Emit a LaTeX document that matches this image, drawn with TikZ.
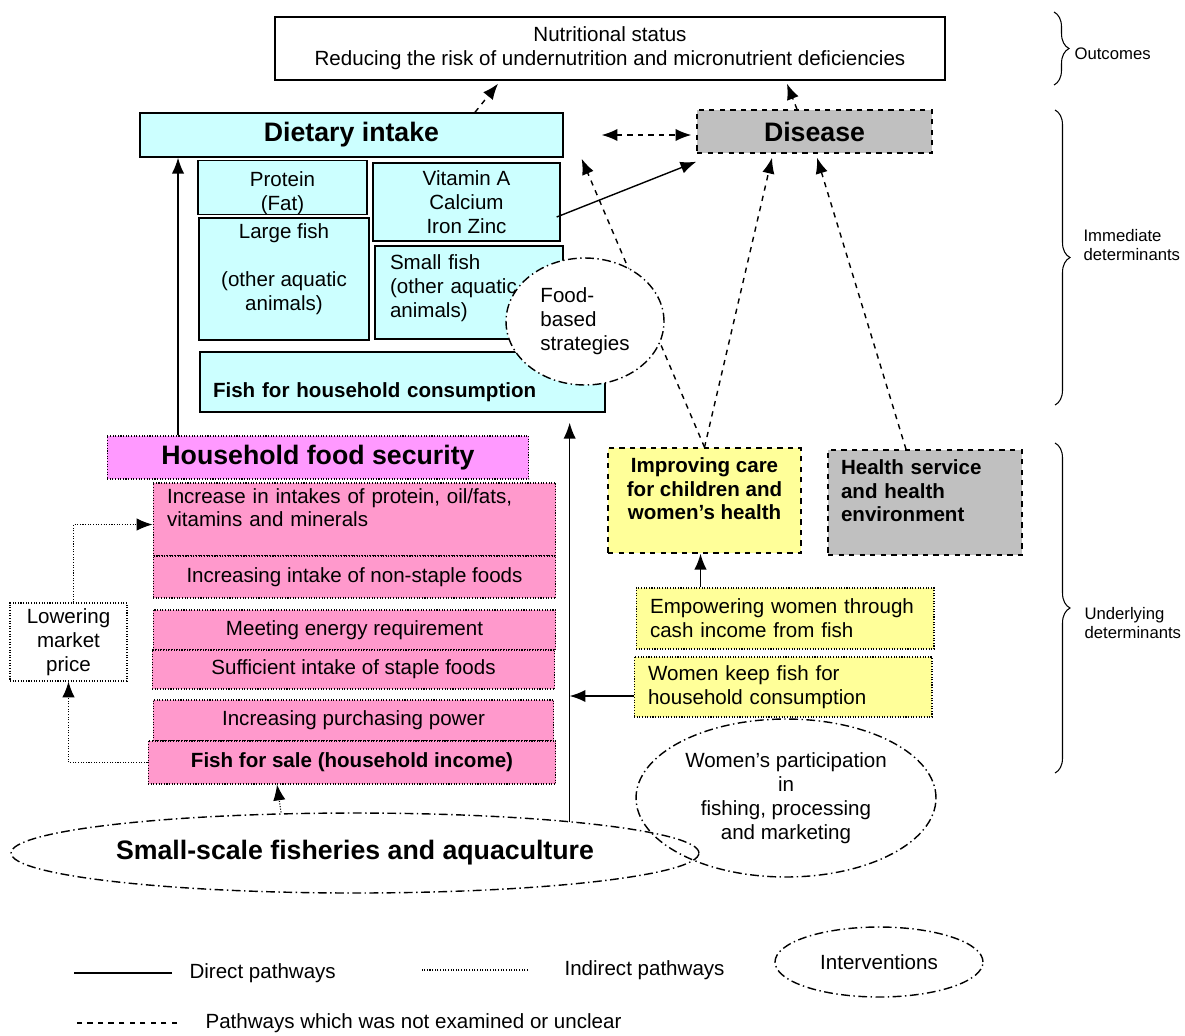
\documentclass[tikz,border=0pt]{standalone}
\usepackage{fontspec}
\setmainfont{Liberation Sans}
\usepackage{xcolor}
\usepackage{tikz}
\usetikzlibrary{shapes.geometric, arrows.meta, decorations.pathreplacing}

\definecolor{dietcyan}{HTML}{CCFFFF}
\definecolor{disgray}{HTML}{C0C0C0}
\definecolor{hfsmagenta}{HTML}{FF99FF}
\definecolor{hfspink}{HTML}{FF99CC}
\definecolor{careyellow}{HTML}{FFFF99}

\newcommand{\txtreg}{\fontsize{11.7}{13.6}\selectfont}
\newcommand{\txtbold}{\fontsize{11.7}{13.6}\selectfont\bfseries}
\newcommand{\txtbig}{\fontsize{15.2}{18}\selectfont\bfseries}
\newcommand{\txtbrace}{\fontsize{9.5}{11.3}\selectfont}

\begin{document}
\begin{tikzpicture}[x=0.02cm, y=-0.02cm, >={Latex[length=9pt,width=7pt]}, thick,
    cellbox/.style={draw, rectangle, inner sep=0pt, align=center, font=\txtreg},
    cyanbox/.style={cellbox, fill=dietcyan},
    dotline/.style={line width=0.6pt, dash pattern=on 0.6pt off 0.9pt},
    pinkbox/.style={cellbox, fill=hfspink, dotline},
    yellowbox/.style={cellbox, fill=careyellow, dotline},
    leftpad/.style={align=left, inner xsep=0.28cm},
    interv/.style={draw, ellipse, inner sep=0pt, align=center, font=\txtreg, dash pattern=on 5pt off 2pt on 0.8pt off 2pt},
    direct/.style={->},
    indirect/.style={->, dotline},
    unclear/.style={->, dashed},
    levelbrace/.style={decorate, decoration={brace, amplitude=0.3cm}, line width=0.6pt}]

    \useasboundingbox (0,0) rectangle (1185,1035);

    % Outcome
    \node[cellbox, minimum width=13.4cm, minimum height=1.26cm] (nutr) at (610,48.5) {Nutritional status\\Reducing the risk of undernutrition and micronutrient deficiencies};

    % Immediate determinants
    \node[cyanbox, font=\txtbig, minimum width=8.46cm, minimum height=0.88cm] (diet) at (351.5,135) {Dietary intake};
    \node[cellbox, fill=disgray, dashed, font=\txtbig, minimum width=4.7cm, minimum height=0.86cm] (dis) at (814.5,131.5) {Disease};
    \node[cyanbox, minimum width=3.38cm, minimum height=0.98cm] (prot) at (282.5,187.5) {\mbox{}\\[1pt]Protein\\(Fat)};
    \node[cyanbox, minimum width=3.74cm, minimum height=1.56cm] (vit) at (466.5,202) {Vitamin A\\Calcium\\Iron Zinc};
    \node[cyanbox, minimum width=3.4cm, minimum height=2.44cm] (large) at (284,279) {Large fish\\\mbox{}\\(other aquatic\\animals)\\\mbox{}};
    \node[cyanbox, leftpad, inner xsep=0.3cm, text width=3.16cm, minimum width=3.76cm, minimum height=1.86cm] (small) at (469,292.5) {Small fish\\(other aquatic\\animals)\\[-6pt]\mbox{}};
    \node[cyanbox, leftpad, inner xsep=0.26cm, text width=7.58cm, minimum width=8.1cm, minimum height=1.2cm, font=\txtbold] (fhh) at (402.5,382) {\mbox{}\\[6pt]Fish for household consumption};

    % Underlying determinants
    \node[cellbox, fill=hfsmagenta, dotline, font=\txtbig, minimum width=8.44cm, minimum height=0.86cm] (hfs) at (318,457.5) {Household food security};
    \node[pinkbox, leftpad, text width=7.5cm, minimum width=8.06cm, minimum height=1.46cm] (inc) at (354.5,519.5) {Increase in intakes of protein, oil/fats,\\vitamins and minerals\\\mbox{}};
    \node[pinkbox, minimum width=8.06cm, minimum height=0.84cm] (nons) at (354.5,577) {Increasing intake of non-staple foods};
    \node[pinkbox, minimum width=8.06cm, minimum height=0.8cm] (energy) at (354.5,630) {Meeting energy requirement};
    \node[pinkbox, minimum width=8.06cm, minimum height=0.78cm] (staple) at (353.5,669.5) {Sufficient intake of staple foods};
    \node[pinkbox, minimum width=8.02cm, minimum height=0.82cm] (purch) at (353.5,720.5) {Increasing purchasing power};
    \node[pinkbox, font=\txtbold, minimum width=8.16cm, minimum height=0.86cm] (sale) at (352,762.5) {Fish for sale (household income)};
    \node[cellbox, dotline, minimum width=2.34cm, minimum height=1.56cm] (low) at (68.5,642) {Lowering\\market\\price};
    \node[cellbox, fill=careyellow, dashed, font=\txtbold, minimum width=3.86cm, minimum height=2.1cm] (care) at (704.5,500.5) {Improving care\\for children and\\women’s health\\\mbox{}};
    \node[cellbox, fill=disgray, dashed, font=\txtbold, leftpad, inner xsep=0.26cm, text width=3.36cm, minimum width=3.88cm, minimum height=2.1cm] (health) at (925,502.5) {Health service\\and health\\environment\\\mbox{}};
    \node[yellowbox, leftpad, text width=5.4cm, minimum width=5.96cm, minimum height=1.22cm] (emp) at (785,618.5) {Empowering women through\\cash income from fish};
    \node[yellowbox, leftpad, text width=5.4cm, minimum width=5.96cm, minimum height=1.2cm] (keep) at (783,687) {Women keep fish for\\household consumption};

    % Interventions
    \node[interv, font=\txtbig, minimum width=13.76cm, minimum height=1.6cm] (ssf) at (355,853) {Small-scale fisheries and aquaculture};
    \node[interv, minimum width=6cm, minimum height=3.16cm] (part) at (786,798) {Women’s participation\\in\\fishing, processing\\and marketing};

    % Pathways
    \draw[unclear] (care.north) -- ([xshift=0.36cm,yshift=-0.02cm]diet.south east);
    \node[interv, fill=white, align=left, minimum width=3.16cm, minimum height=2.54cm] (food) at (585,321.5) {Food-\\based\\strategies};
    \draw[unclear] (care.north) -- ([xshift=-0.85cm,yshift=-0.08cm]dis.south);
    \draw[unclear] ([xshift=-0.38cm]health.north) -- ([xshift=0.05cm,yshift=-0.08cm]dis.south);
    \draw[unclear] ([xshift=2.47cm]diet.north) -- ([xshift=-2.24cm,yshift=-0.06cm]nutr.south);
    \draw[unclear] ([xshift=-0.35cm]dis.north) -- ([xshift=3.54cm,yshift=-0.06cm]nutr.south);
    \draw[unclear, <->] ([xshift=0.76cm]diet.east) -- ([xshift=-0.1cm]diet.east -| dis.west);
    \draw[direct] ([xshift=-0.08cm,yshift=-0.3cm]vit.east) -- ([yshift=-0.16cm]dis.south west);
    \draw[direct] ([xshift=-2.8cm]hfs.north) -- ([xshift=-2.8cm]hfs.north |- diet.south);
    \draw[direct] ([xshift=-0.14cm]ssf.8) -- ([xshift=-0.14cm,yshift=-0.2cm]ssf.8 |- fhh.south);
    \draw[direct] ([yshift=-0.18cm]keep.west) -- ([xshift=-0.14cm,yshift=-0.18cm]keep.west -| ssf.8);
    \draw[direct] ([xshift=-0.08cm]care.south |- emp.north) -- ([xshift=-0.08cm]care.south);
    \draw[indirect] ([xshift=0.1cm]low.north) |- ([yshift=-0.1cm]inc.west);
    \draw[indirect] (sale.west) -| (low.south);
    \draw[indirect] ([xshift=-1.48cm]ssf.north) -- ([xshift=-1.5cm]sale.south);

    % Levels
    \draw[levelbrace] (1054,12) -- (1054,85);
    \draw[levelbrace] (1055,110) -- (1055,405);
    \draw[levelbrace] (1055,443) -- (1055,773);
    \node[anchor=west, font=\txtbrace] (outc) at (1068,54) {Outcomes};
    \node[anchor=west, font=\txtbrace, align=left] (immed) at (1077,245) {Immediate\\determinants};
    \node[anchor=west, font=\txtbrace, align=left] (under) at (1078,623) {Underlying\\determinants};

    % Legend
    \node[anchor=west, font=\txtreg] (ldir) at (183,973) {Direct pathways};
    \draw ([xshift=-0.22cm]ldir.west) -- ++(-1.96cm,0);
    \node[anchor=west, font=\txtreg] (lind) at (558,970) {Indirect pathways};
    \draw[dotline] ([xshift=-0.6cm]lind.west) -- ++(-2.14cm,0);
    \node[interv, minimum width=4.16cm, minimum height=1.4cm] (lint) at (879,962) {Interventions};
    \node[anchor=west, font=\txtreg] (lunc) at (199,1023) {Pathways which was not examined or unclear};
    \draw[dashed] ([xshift=-0.44cm]lunc.west) -- ++(-2.06cm,0);
\end{tikzpicture}
\end{document}
